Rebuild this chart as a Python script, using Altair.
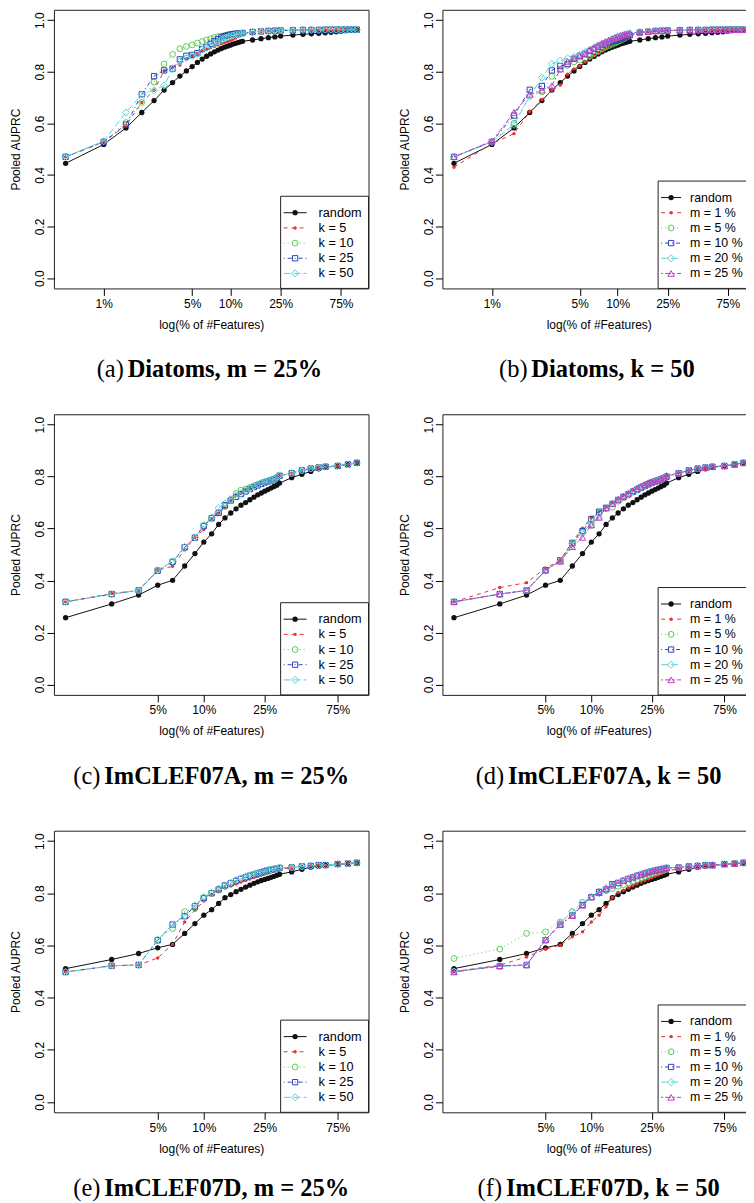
import math
import altair as alt
import pandas as pd

# ---------------- data ----------------
X_DIA = [0.5, 1, 1.5, 2, 2.5, 3, 3.5, 4, 4.5, 5,
         5.5, 6, 6.5, 7, 7.5, 8, 8.5, 9, 9.5, 10,
         10.5, 11, 11.5, 12, 12.5, 15, 17.5, 20, 22.5, 25,
         31.25, 37.5, 43.75, 50, 56.25, 62.5, 68.75, 75, 81.25, 87.5,
         93.75, 100]

X_IMC = [1.25, 2.5, 3.75, 5, 6.25, 7.5, 8.75, 10, 11.25, 12.5,
         13.75, 15, 16.25, 17.5, 18.75, 20, 21.25, 22.5, 23.75, 25,
         26.25, 27.5, 28.75, 30, 31.25, 37.5, 43.75, 50, 56.25, 62.5,
         75, 87.5, 100]

DIA_RANDOM = [0.445, 0.518, 0.582, 0.642, 0.688, 0.729, 0.758, 0.783, 0.803, 0.820,
              0.836, 0.849, 0.860, 0.869, 0.877, 0.884, 0.890, 0.895, 0.899, 0.903,
              0.907, 0.910, 0.913, 0.916, 0.918, 0.923, 0.928, 0.932, 0.935, 0.938,
              0.942, 0.945, 0.947, 0.949, 0.951, 0.953, 0.955, 0.957, 0.959, 0.960,
              0.961, 0.962]
DIA_K5 = [0.470, 0.528, 0.592, 0.681, 0.728, 0.803, 0.815, 0.826, 0.850, 0.860,
          0.870, 0.879, 0.886, 0.893, 0.899, 0.904, 0.909, 0.913, 0.917, 0.921,
          0.926, 0.931, 0.936, 0.940, 0.944, 0.952, 0.956, 0.958, 0.959, 0.960,
          0.961, 0.962, 0.962, 0.962, 0.963, 0.963, 0.963, 0.963, 0.963, 0.963,
          0.963, 0.963]
DIA_K10 = [0.470, 0.528, 0.603, 0.681, 0.760, 0.830, 0.867, 0.889, 0.898, 0.904,
           0.911, 0.917, 0.923, 0.928, 0.933, 0.936, 0.938, 0.940, 0.942, 0.944,
           0.945, 0.946, 0.947, 0.948, 0.949, 0.953, 0.956, 0.958, 0.959, 0.960,
           0.961, 0.962, 0.962, 0.962, 0.963, 0.963, 0.963, 0.963, 0.963, 0.963,
           0.963, 0.963]
DIA_K25 = [0.470, 0.528, 0.595, 0.713, 0.783, 0.805, 0.812, 0.848, 0.862, 0.865,
           0.872, 0.888, 0.896, 0.908, 0.918, 0.926, 0.933, 0.938, 0.941, 0.944,
           0.946, 0.947, 0.948, 0.949, 0.950, 0.954, 0.956, 0.958, 0.959, 0.960,
           0.961, 0.962, 0.962, 0.962, 0.963, 0.963, 0.963, 0.963, 0.963, 0.963,
           0.963, 0.963]
DIA_K50 = [0.470, 0.531, 0.642, 0.712, 0.728, 0.746, 0.810, 0.840, 0.853, 0.860,
           0.868, 0.886, 0.894, 0.903, 0.910, 0.917, 0.923, 0.928, 0.933, 0.937,
           0.940, 0.943, 0.945, 0.947, 0.949, 0.954, 0.956, 0.958, 0.959, 0.960,
           0.961, 0.962, 0.962, 0.962, 0.963, 0.963, 0.963, 0.963, 0.963, 0.963,
           0.963, 0.963]
DIA_M1 = [0.430, 0.521, 0.560, 0.645, 0.692, 0.728, 0.748, 0.790, 0.811, 0.822,
          0.838, 0.850, 0.862, 0.872, 0.880, 0.890, 0.900, 0.907, 0.912, 0.917,
          0.922, 0.927, 0.932, 0.937, 0.941, 0.951, 0.955, 0.958, 0.959, 0.960,
          0.961, 0.962, 0.962, 0.962, 0.963, 0.963, 0.963, 0.963, 0.963, 0.963,
          0.963, 0.963]
DIA_M5 = [0.470, 0.528, 0.600, 0.705, 0.722, 0.782, 0.810, 0.825, 0.838, 0.845,
          0.852, 0.862, 0.872, 0.880, 0.888, 0.895, 0.901, 0.906, 0.911, 0.916,
          0.921, 0.926, 0.931, 0.936, 0.940, 0.951, 0.955, 0.958, 0.959, 0.960,
          0.961, 0.962, 0.962, 0.962, 0.963, 0.963, 0.963, 0.963, 0.963, 0.963,
          0.963, 0.963]
DIA_M10 = [0.470, 0.528, 0.630, 0.730, 0.745, 0.805, 0.822, 0.830, 0.850, 0.862,
           0.870, 0.880, 0.888, 0.897, 0.904, 0.910, 0.914, 0.918, 0.921, 0.924,
           0.927, 0.930, 0.934, 0.938, 0.942, 0.952, 0.955, 0.958, 0.959, 0.960,
           0.961, 0.962, 0.962, 0.962, 0.963, 0.963, 0.963, 0.963, 0.963, 0.963,
           0.963, 0.963]
DIA_M20 = [0.470, 0.528, 0.594, 0.705, 0.777, 0.830, 0.843, 0.852, 0.858, 0.865,
           0.876, 0.885, 0.893, 0.900, 0.907, 0.914, 0.920, 0.926, 0.931, 0.935,
           0.939, 0.942, 0.945, 0.947, 0.949, 0.954, 0.956, 0.958, 0.959, 0.960,
           0.961, 0.962, 0.962, 0.962, 0.963, 0.963, 0.963, 0.963, 0.963, 0.963,
           0.963, 0.963]
DIA_M25 = DIA_K50  # the same run (k = 50, m = 25%)

IMA_RANDOM = [0.257, 0.310, 0.344, 0.382, 0.401, 0.456, 0.504, 0.548, 0.580, 0.616,
              0.641, 0.660, 0.676, 0.690, 0.700, 0.711, 0.721, 0.730, 0.737, 0.744,
              0.750, 0.756, 0.762, 0.767, 0.775, 0.796, 0.809, 0.820, 0.830, 0.836,
              0.841, 0.847, 0.853]
IMA_K5 = [0.318, 0.350, 0.362, 0.440, 0.455, 0.518, 0.566, 0.596, 0.638, 0.660,
          0.682, 0.708, 0.728, 0.738, 0.747, 0.755, 0.762, 0.769, 0.775, 0.779,
          0.783, 0.787, 0.791, 0.797, 0.804, 0.813, 0.824, 0.831, 0.835, 0.838,
          0.841, 0.847, 0.853]
IMA_K10 = [0.318, 0.348, 0.362, 0.438, 0.472, 0.528, 0.565, 0.610, 0.640, 0.662,
           0.685, 0.712, 0.735, 0.748, 0.752, 0.758, 0.764, 0.770, 0.775, 0.779,
           0.783, 0.787, 0.791, 0.797, 0.804, 0.813, 0.824, 0.831, 0.835, 0.838,
           0.841, 0.847, 0.853]
IMA_K25 = [0.318, 0.348, 0.362, 0.438, 0.472, 0.528, 0.565, 0.610, 0.640, 0.660,
           0.690, 0.708, 0.722, 0.733, 0.743, 0.752, 0.760, 0.766, 0.772, 0.777,
           0.781, 0.785, 0.789, 0.795, 0.803, 0.813, 0.824, 0.831, 0.835, 0.838,
           0.841, 0.847, 0.853]
IMA_K50 = [0.318, 0.348, 0.362, 0.440, 0.474, 0.530, 0.566, 0.614, 0.643, 0.679,
           0.697, 0.713, 0.726, 0.736, 0.746, 0.754, 0.762, 0.769, 0.775, 0.779,
           0.783, 0.787, 0.791, 0.797, 0.804, 0.813, 0.824, 0.831, 0.835, 0.838,
           0.841, 0.847, 0.853]
IMA_M1 = [0.318, 0.373, 0.392, 0.448, 0.478, 0.550, 0.601, 0.643, 0.667, 0.684,
          0.700, 0.714, 0.727, 0.738, 0.750, 0.760, 0.768, 0.775, 0.781, 0.786,
          0.790, 0.794, 0.798, 0.802, 0.806, 0.814, 0.824, 0.831, 0.835, 0.838,
          0.841, 0.847, 0.853]
IMA_M5 = [0.318, 0.348, 0.362, 0.440, 0.475, 0.535, 0.590, 0.612, 0.660, 0.678,
          0.682, 0.705, 0.718, 0.730, 0.740, 0.748, 0.756, 0.763, 0.769, 0.775,
          0.780, 0.784, 0.788, 0.793, 0.800, 0.813, 0.824, 0.831, 0.835, 0.838,
          0.841, 0.847, 0.853]
IMA_M10 = [0.318, 0.348, 0.362, 0.440, 0.478, 0.545, 0.590, 0.637, 0.665, 0.680,
           0.695, 0.710, 0.722, 0.732, 0.742, 0.750, 0.758, 0.765, 0.771, 0.777,
           0.781, 0.785, 0.789, 0.794, 0.800, 0.813, 0.824, 0.831, 0.835, 0.838,
           0.841, 0.847, 0.853]
IMA_M20 = [0.318, 0.348, 0.362, 0.438, 0.475, 0.542, 0.585, 0.620, 0.645, 0.678,
           0.695, 0.710, 0.722, 0.733, 0.743, 0.751, 0.759, 0.766, 0.772, 0.777,
           0.781, 0.785, 0.789, 0.795, 0.802, 0.813, 0.824, 0.831, 0.835, 0.838,
           0.841, 0.847, 0.853]
IMA_M25 = IMA_K50

IMD_RANDOM = [0.511, 0.546, 0.569, 0.591, 0.604, 0.646, 0.684, 0.716, 0.737, 0.761,
              0.783, 0.795, 0.806, 0.815, 0.824, 0.831, 0.838, 0.844, 0.849, 0.853,
              0.857, 0.861, 0.865, 0.869, 0.873, 0.882, 0.892, 0.900, 0.904, 0.907,
              0.911, 0.914, 0.916]
IMD_K5 = [0.498, 0.522, 0.525, 0.552, 0.604, 0.690, 0.735, 0.770, 0.795, 0.808,
          0.820, 0.828, 0.836, 0.843, 0.849, 0.855, 0.860, 0.865, 0.870, 0.874,
          0.878, 0.882, 0.885, 0.888, 0.892, 0.898, 0.903, 0.905, 0.908, 0.908,
          0.912, 0.914, 0.917]
IMD_K10 = [0.498, 0.522, 0.525, 0.620, 0.665, 0.730, 0.742, 0.780, 0.800, 0.812,
           0.828, 0.840, 0.850, 0.856, 0.862, 0.868, 0.872, 0.877, 0.881, 0.885,
           0.888, 0.891, 0.893, 0.895, 0.898, 0.899, 0.903, 0.905, 0.908, 0.908,
           0.912, 0.914, 0.917]
IMD_K25 = [0.498, 0.522, 0.525, 0.620, 0.680, 0.712, 0.750, 0.782, 0.800, 0.815,
           0.830, 0.838, 0.847, 0.855, 0.861, 0.867, 0.871, 0.876, 0.880, 0.884,
           0.887, 0.890, 0.892, 0.894, 0.897, 0.899, 0.903, 0.905, 0.908, 0.908,
           0.912, 0.914, 0.917]
IMD_K50 = [0.498, 0.522, 0.525, 0.623, 0.680, 0.714, 0.754, 0.786, 0.802, 0.818,
           0.831, 0.840, 0.850, 0.857, 0.863, 0.869, 0.873, 0.878, 0.882, 0.886,
           0.889, 0.891, 0.893, 0.895, 0.898, 0.899, 0.903, 0.905, 0.908, 0.908,
           0.912, 0.914, 0.917]
IMD_M1 = [0.500, 0.524, 0.556, 0.586, 0.601, 0.633, 0.652, 0.690, 0.716, 0.748,
          0.784, 0.803, 0.812, 0.821, 0.829, 0.836, 0.843, 0.849, 0.855, 0.860,
          0.865, 0.870, 0.875, 0.880, 0.885, 0.895, 0.902, 0.905, 0.908, 0.908,
          0.912, 0.914, 0.917]
IMD_M5 = [0.550, 0.586, 0.646, 0.652, 0.690, 0.729, 0.765, 0.786, 0.806, 0.810,
          0.818, 0.827, 0.833, 0.840, 0.847, 0.853, 0.859, 0.864, 0.869, 0.874,
          0.878, 0.882, 0.886, 0.889, 0.892, 0.898, 0.903, 0.905, 0.908, 0.908,
          0.912, 0.914, 0.917]
IMD_M10 = [0.500, 0.520, 0.525, 0.620, 0.680, 0.715, 0.755, 0.785, 0.805, 0.815,
           0.835, 0.840, 0.848, 0.855, 0.861, 0.867, 0.871, 0.876, 0.880, 0.884,
           0.887, 0.890, 0.892, 0.894, 0.897, 0.899, 0.903, 0.905, 0.908, 0.908,
           0.912, 0.914, 0.917]
IMD_M20 = [0.500, 0.520, 0.525, 0.620, 0.685, 0.730, 0.765, 0.785, 0.800, 0.820,
           0.832, 0.840, 0.849, 0.856, 0.862, 0.868, 0.872, 0.877, 0.881, 0.885,
           0.888, 0.891, 0.893, 0.895, 0.898, 0.899, 0.903, 0.905, 0.908, 0.908,
           0.912, 0.914, 0.917]
IMD_M25 = IMD_K50

LABELS_K = ["random", "k = 5", "k = 10", "k = 25", "k = 50"]
LABELS_M = ["random", "m = 1 %", "m = 5 %", "m = 10 %", "m = 20 %", "m = 25 %"]
TICKS_DIA = [1, 5, 10, 25, 75]
TICKS_IMC = [5, 10, 25, 75]
Y_TICKS = [0.0, 0.2, 0.4, 0.6, 0.8, 1.0]

# ---------------- styles ----------------
STYLES = [
    dict(color="#111111", dash=None, shape="circle", filled=True, size=28),
    dict(color="#E8322F", dash=[4, 4], shape="circle", filled=True, size=12),
    dict(color="#5CCB5A", dash=[1, 3], shape="circle", filled=False, size=34),
    dict(color="#2E40BE", dash=[1, 3, 4, 3], shape="square", filled=False, size=28),
    dict(color="#5AD2D6", dash=[7, 3], shape="diamond", filled=False, size=50),
    dict(color="#C23CC2", dash=[2, 2, 6, 2], shape="triangle-up", filled=False, size=42),
]

SANS = "Liberation Sans"
SERIF = "Liberation Serif"

TIMES_REG = {"(": 0.333, ")": 0.333, "a": 0.444, "b": 0.5, "c": 0.444,
             "d": 0.5, "e": 0.444, "f": 0.333, " ": 0.25}
TIMES_BOLD = {"D": 0.722, "i": 0.278, "a": 0.5, "t": 0.333, "o": 0.5, "m": 0.833,
              "s": 0.389, ",": 0.25, " ": 0.25, "=": 0.57, "2": 0.5, "5": 0.5,
              "%": 1.0, "k": 0.556, "0": 0.5, "I": 0.389, "C": 0.722, "L": 0.667,
              "E": 0.667, "F": 0.611, "7": 0.5, "A": 0.722}
CAP_SIZE = 24.5
CAP_FIT = 0.93
ONE = pd.DataFrame({"v": [0]})

# legend inner layout: (line start, line end, symbol, text start, font size)
LEG_WIDE = (3, 26, 14.5, 38, 12.7)
LEG_TIGHT = (3, 23, 13, 32, 12.4)


def text_width(s, table):
    return sum(table.get(ch, 0.5) for ch in s) * CAP_SIZE * CAP_FIT


def style_mark_line(st):
    kw = dict(color=st["color"], strokeWidth=1)
    if st["dash"]:
        kw["strokeDash"] = st["dash"]
    return kw


def style_mark_point(st, size=None):
    return dict(shape=st["shape"], size=size or st["size"], filled=st["filled"],
                color=st["color"], strokeWidth=1, opacity=1)


def make_panel(xs, series, labels, W, H, xticks, letter, bold, legend_w, leg,
               cap_gap=82, bottom_to=None):
    lo, hi = math.log10(min(xs)), math.log10(max(xs))
    pad = 0.04 * (hi - lo)
    xscale = alt.Scale(type="log", domain=[10 ** (lo - pad), 10 ** (hi + pad)],
                       nice=False, zero=False)
    yscale = alt.Scale(domain=[-0.04, 1.04], nice=False, zero=False)
    xaxis = alt.Axis(values=xticks, labelExpr="datum.value + '%'",
                     title="log(% of #Features)", grid=False, domain=False,
                     tickSize=7, labelPadding=3, labelFlush=False, labelOverlap=False,
                     labelBaseline="top", titleY=40, titleBaseline="alphabetic")
    yaxis = alt.Axis(values=Y_TICKS, format=".1f", title="Pooled AUPRC", grid=False,
                     domain=False, tickSize=7, labelPadding=3, labelFlush=False,
                     labelOverlap=False, labelAngle=270, labelAlign="center",
                     labelBaseline="alphabetic", titleX=-38, titleY=H / 2,
                     titleAngle=270, titleAlign="center", titleBaseline="middle")
    layers = []
    for i, ys in enumerate(series):
        st = STYLES[i]
        df = pd.DataFrame({"x": xs, "y": ys})
        base = alt.Chart(df).encode(
            x=alt.X("x:Q", scale=xscale, axis=xaxis),
            y=alt.Y("y:Q", scale=yscale, axis=yaxis),
        )
        layers.append(base.mark_line(**style_mark_line(st)))
        layers.append(base.mark_point(**style_mark_point(st)))

    # legend box (bottom-right, like R's legend("bottomright"))
    l0, l1, lsym, ltxt, lfs = leg
    n = len(labels)
    bh = 16.5 + (n - 1) * 15.2 + 15
    xl, yt = W - legend_w, H - bh
    layers.append(alt.Chart(ONE).mark_rect(fill="white", stroke="#222", strokeWidth=1)
                  .encode(x=alt.value(xl), x2=alt.value(W), y=alt.value(yt), y2=alt.value(H)))
    for i, lab in enumerate(labels):
        st = STYLES[i]
        yr = yt + 16.5 + i * 15.2
        layers.append(alt.Chart(ONE).mark_rule(**style_mark_line(st))
                      .encode(x=alt.value(xl + l0), x2=alt.value(xl + l1), y=alt.value(yr)))
        layers.append(alt.Chart(ONE).mark_point(**style_mark_point(st))
                      .encode(x=alt.value(xl + lsym), y=alt.value(yr)))
        layers.append(alt.Chart(ONE).mark_text(text=lab, align="left", baseline="middle",
                                               font=SANS, fontSize=lfs, color="#000")
                      .encode(x=alt.value(xl + ltxt), y=alt.value(yr)))

    # caption: "(x)" regular, rest bold, centred under the panel
    w1 = text_width(letter + " ", TIMES_REG)
    w2 = text_width(bold, TIMES_BOLD)
    x0 = 149 - (w1 + w2) / 2
    ycap = H + cap_gap
    layers.append(alt.Chart(ONE).mark_text(text=letter, align="left", baseline="middle",
                                           font=SERIF, fontSize=CAP_SIZE, color="#000")
                  .encode(x=alt.value(x0), y=alt.value(ycap)))
    layers.append(alt.Chart(ONE).mark_text(text=bold, align="left", baseline="middle",
                                           font=SERIF, fontSize=CAP_SIZE, fontWeight="bold",
                                           color="#000")
                  .encode(x=alt.value(x0 + w1), y=alt.value(ycap)))
    # invisible (white) spacer that fixes where the next row of panels starts
    if bottom_to is not None:
        layers.append(alt.Chart(ONE).mark_rule(color="white", strokeWidth=1)
                      .encode(x=alt.value(0), x2=alt.value(1), y=alt.value(bottom_to - 0.5)))
    return alt.layer(*layers).properties(width=W, height=H)


WL, WR = 315, 313
LW_L, LW_R = 88, 97
pa = make_panel(X_DIA, [DIA_RANDOM, DIA_K5, DIA_K10, DIA_K25, DIA_K50], LABELS_K,
                WL, 279, TICKS_DIA, "(a)", "Diatoms, m = 25%", LW_L, LEG_WIDE,
                bottom_to=403.5)
pb = make_panel(X_DIA, [DIA_RANDOM, DIA_M1, DIA_M5, DIA_M10, DIA_M20, DIA_M25], LABELS_M,
                WR, 279, TICKS_DIA, "(b)", "Diatoms, k = 50", LW_R, LEG_TIGHT,
                bottom_to=403.5)
pc = make_panel(X_IMC, [IMA_RANDOM, IMA_K5, IMA_K10, IMA_K25, IMA_K50], LABELS_K,
                WL, 281, TICKS_IMC, "(c)", "ImCLEF07A, m = 25%", LW_L, LEG_WIDE,
                bottom_to=415)
pd_ = make_panel(X_IMC, [IMA_RANDOM, IMA_M1, IMA_M5, IMA_M10, IMA_M20, IMA_M25], LABELS_M,
                 WR, 281, TICKS_IMC, "(d)", "ImCLEF07A, k = 50", LW_R, LEG_TIGHT,
                 bottom_to=415)
pe = make_panel(X_IMC, [IMD_RANDOM, IMD_K5, IMD_K10, IMD_K25, IMD_K50], LABELS_K,
                WL, 282, TICKS_IMC, "(e)", "ImCLEF07D, m = 25%", LW_L, LEG_WIDE,
                cap_gap=77)
pf = make_panel(X_IMC, [IMD_RANDOM, IMD_M1, IMD_M5, IMD_M10, IMD_M20, IMD_M25], LABELS_M,
                WR, 282, TICKS_IMC, "(f)", "ImCLEF07D, k = 50", LW_R, LEG_TIGHT,
                cap_gap=77)

row1 = alt.hconcat(pa, pb, spacing=74, bounds="flush")
row2 = alt.hconcat(pc, pd_, spacing=74, bounds="flush")
row3 = alt.hconcat(pe, pf, spacing=74, bounds="flush")
# the figure runs past the right edge of the page, as in the reference: a negative right
# padding keeps the svg within the page width so that the page does not shrink it
chart = alt.vconcat(row1, row2, row3, spacing=0).properties(
    padding={"left": 1, "top": 0, "right": -10, "bottom": 0}
).configure_view(stroke="#222", strokeWidth=1).configure_axis(
    labelFont=SANS, labelFontSize=12, labelColor="#000",
    titleFont=SANS, titleFontSize=12, titleFontWeight="normal", titleColor="#000",
    tickColor="#000", tickWidth=1,
)

chart.save("out.html", embed_options={"renderer": "svg", "actions": False})
